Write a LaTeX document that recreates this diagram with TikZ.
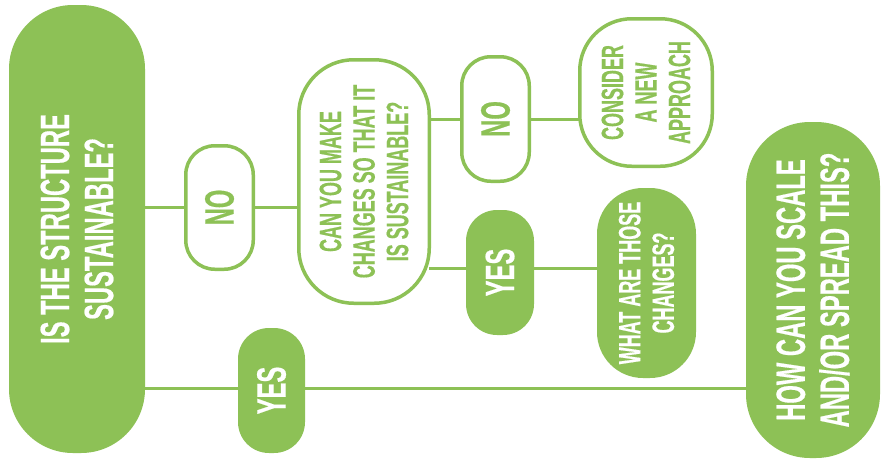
\documentclass[tikz,border=0pt]{standalone}
\usepackage{fontspec}
\setmainfont{Liberation Sans}[FakeStretch=0.58,FakeBold=0.4]
\usetikzlibrary{backgrounds}
\definecolor{lg}{RGB}{141,193,86}
\begin{document}
\begin{tikzpicture}[x=1pt,y=-1pt,
  fillbox/.style={fill=lg, draw=none, rounded corners=#1, inner sep=0pt, outer sep=0pt},
  linebox/.style={fill=white, draw=lg, line width=3.5pt, rounded corners=#1, inner sep=0pt, outer sep=0pt},
  conn/.style={draw=lg, line width=3pt},
  bigtxt/.style={rotate=90, align=center, inner sep=0pt, font=\bfseries\fontsize{41}{44}\selectfont},
  smalltxt/.style={rotate=90, align=center, inner sep=0pt, font=\bfseries\fontsize{31}{33.5}\selectfont},
]
\useasboundingbox (0,0) rectangle (881,459);

\node[fillbox=64pt, minimum width=136pt, minimum height=448pt] (A) at (77,229) {};
\node[linebox=29pt, minimum width=67.5pt, minimum height=123.5pt] (N1) at (219.5,207.5) {};
\node[fillbox=31pt, minimum width=67pt, minimum height=125pt] (Y1) at (271.5,390.5) {};
\node[linebox=55pt, minimum width=130.5pt, minimum height=243.5pt] (B) at (364,181.5) {};
\node[linebox=29pt, minimum width=67.5pt, minimum height=124.5pt] (N2) at (495.5,119) {};
\node[fillbox=31pt, minimum width=68pt, minimum height=125pt] (Y2) at (500,272.5) {};
\node[linebox=52pt, minimum width=132.5pt, minimum height=147.5pt] (C) at (646,92.5) {};
\node[fillbox=46pt, minimum width=99pt, minimum height=190pt] (D) at (646.5,283) {};
\node[fillbox=64pt, minimum width=134pt, minimum height=336pt] (E) at (813,290) {};

\node[bigtxt, text=white] (tA) at (A) {IS THE STRUCTURE\\SUSTAINABLE?};
\node[bigtxt, text=lg] (tN1) at (N1) {NO};
\node[bigtxt, text=white] (tY1) at (Y1) {YES};
\node[smalltxt, text=lg] (tB) at (B) {CAN YOU MAKE\\CHANGES SO THAT IT\\IS SUSTAINABLE?};
\node[bigtxt, text=lg] (tN2) at (N2) {NO};
\node[bigtxt, text=white] (tY2) at (Y2) {YES};
\node[smalltxt, text=lg] (tC) at (C) {CONSIDER\\A NEW\\APPROACH};
\node[smalltxt, text=white] (tD) at (D) {WHAT ARE THOSE\\CHANGES?};
\node[bigtxt, text=white] (tE) at (E) {HOW CAN YOU SCALE\\AND/OR SPREAD THIS?};

\coordinate (y2w) at ([yshift=4pt]Y2.west);
\coordinate (y2e) at ([yshift=4pt]Y2.east);
\coordinate (y1w) at ([yshift=2.5pt]Y1.west);
\coordinate (y1e) at ([yshift=2.5pt]Y1.east);

\begin{scope}[on background layer]
\fill[white] (0,0) rectangle (881,459);
\draw[conn] (A.east |- N1.west) -- (N1.west);
\draw[conn] (N1.east) -- (N1.east -| B.west);
\draw[conn] (B.east |- N2.west) -- (N2.west);
\draw[conn] (N2.east) -- (N2.east -| C.west);
\draw[conn] (B.east |- y2w) -- (y2w);
\draw[conn] (y2e) -- (y2e -| D.west);
\draw[conn] (A.east |- y1w) -- (y1w);
\draw[conn] (y1e) -- (y1e -| E.west);
\end{scope}
\end{tikzpicture}
\end{document}
